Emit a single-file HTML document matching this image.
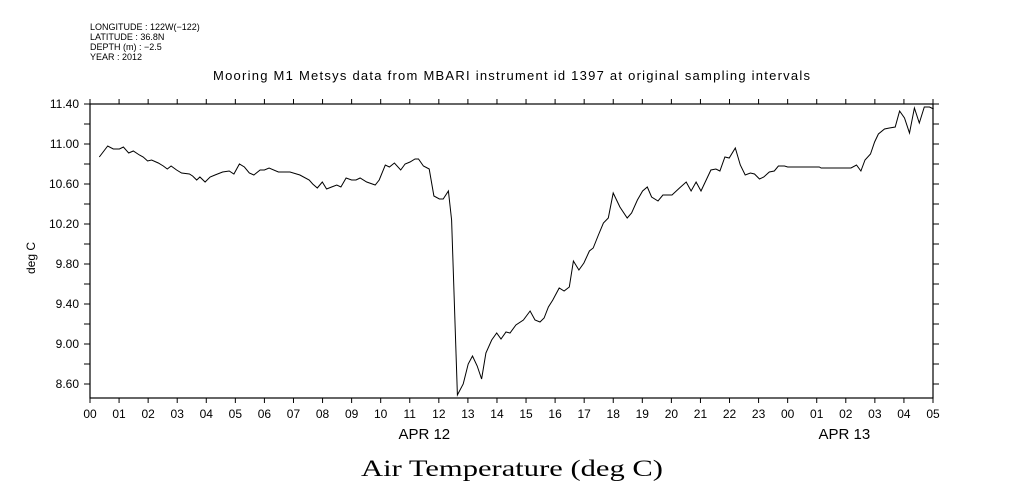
<!DOCTYPE html>
<html><head><meta charset="utf-8"><style>
html,body{margin:0;padding:0;background:#fff;}
svg{display:block;font-family:"Liberation Sans",sans-serif;}
</style></head><body>
<svg width="1009" height="504" viewBox="0 0 1009 504" xmlns="http://www.w3.org/2000/svg">
<g font-size="9" fill="#000">
<text x="90" y="30">LONGITUDE : 122W(−122)</text>
<text x="90" y="40">LATITUDE : 36.8N</text>
<text x="90" y="50">DEPTH (m) : −2.5</text>
<text x="90" y="60">YEAR : 2012</text>
</g>
<text x="213" y="80" font-size="13" textLength="597" lengthAdjust="spacing">Mooring M1 Metsys data from MBARI instrument id 1397 at original sampling intervals</text>
<text x="361" y="476" font-size="23" textLength="302" lengthAdjust="spacingAndGlyphs" font-family="Liberation Serif, serif">Air Temperature (deg C)</text>
<text transform="translate(35,258) rotate(-90)" font-size="12" text-anchor="middle">deg C</text>
<rect x="90" y="104" width="843" height="294" fill="none" stroke="#000" stroke-width="1.2"/>
<g id="axes"></g>
<polyline id="series" fill="none" stroke="#000" stroke-width="1"/>
</svg>
<script>
const hours=[0.32,0.61,0.80,1.01,1.15,1.33,1.49,1.70,1.83,1.98,2.12,2.35,2.52,2.66,2.79,2.98,3.15,3.42,3.53,3.67,3.78,3.96,4.13,4.30,4.56,4.79,4.95,5.14,5.31,5.48,5.64,5.85,6.00,6.16,6.48,6.88,7.22,7.54,7.66,7.82,7.99,8.14,8.31,8.49,8.63,8.81,9.00,9.15,9.29,9.52,9.81,9.95,10.16,10.30,10.47,10.69,10.84,11.01,11.18,11.30,11.47,11.67,11.83,12.02,12.15,12.33,12.44,12.64,12.84,13.01,13.16,13.32,13.47,13.62,13.82,13.99,14.14,14.31,14.45,14.65,14.91,15.14,15.31,15.48,15.62,15.77,15.92,16.14,16.31,16.49,16.63,16.82,16.99,17.18,17.31,17.49,17.66,17.83,18.00,18.23,18.48,18.63,18.83,19.01,19.17,19.32,19.54,19.71,20.02,20.28,20.51,20.68,20.85,21.02,21.36,21.53,21.67,21.84,21.99,22.20,22.37,22.54,22.72,22.86,23.03,23.18,23.37,23.54,23.68,23.89,24.00,25.09,25.15,26.18,26.37,26.52,26.66,26.85,26.99,27.12,27.33,27.50,27.70,27.85,28.02,28.19,28.36,28.53,28.70,28.88,29.02];
const temps=[10.87,10.98,10.95,10.95,10.97,10.91,10.93,10.89,10.87,10.83,10.84,10.81,10.78,10.75,10.78,10.74,10.71,10.70,10.68,10.64,10.67,10.62,10.67,10.69,10.72,10.73,10.70,10.80,10.77,10.71,10.69,10.74,10.74,10.76,10.72,10.72,10.69,10.64,10.60,10.56,10.62,10.55,10.57,10.59,10.57,10.66,10.64,10.64,10.66,10.62,10.59,10.64,10.79,10.77,10.81,10.74,10.80,10.82,10.85,10.85,10.78,10.75,10.48,10.45,10.45,10.53,10.24,8.49,8.60,8.80,8.88,8.78,8.65,8.91,9.04,9.11,9.05,9.12,9.11,9.19,9.24,9.33,9.24,9.22,9.26,9.37,9.44,9.56,9.53,9.57,9.83,9.74,9.81,9.93,9.96,10.09,10.21,10.26,10.51,10.37,10.26,10.31,10.44,10.53,10.57,10.47,10.43,10.49,10.49,10.56,10.62,10.53,10.62,10.53,10.74,10.75,10.73,10.87,10.86,10.96,10.79,10.69,10.71,10.70,10.65,10.67,10.72,10.73,10.78,10.78,10.77,10.77,10.76,10.76,10.79,10.73,10.84,10.90,11.02,11.10,11.15,11.16,11.17,11.33,11.26,11.11,11.36,11.21,11.37,11.37,11.35];
const xTickLabels=["00","01","02","03","04","05","06","07","08","09","10","11","12","13","14","15","16","17","18","19","20","21","22","23","00","01","02","03","04","05"];
const yTickValues=[8.6,9.0,9.4,9.8,10.2,10.6,11.0,11.4];
const yTickLabels=["8.60","9.00","9.40","9.80","10.20","10.60","11.00","11.40"];
const dateLabels=["APR 12","APR 13"];
const dateHours=[11.5,25.95];

const X0=90,X1=933,Y0=104,Y1=398;
const HMAX=29,VTOP=11.4,VBOT=8.46;
function xs(h){return X0+h*(X1-X0)/HMAX;}
function ys(v){return Y0+(VTOP-v)*(Y1-Y0)/(VTOP-VBOT);}
const NS="http://www.w3.org/2000/svg";
const ax=document.getElementById('axes');
function mk(tag,attrs,txt){const e=document.createElementNS(NS,tag);for(const k in attrs)e.setAttribute(k,attrs[k]);if(txt!==undefined)e.textContent=txt;ax.appendChild(e);return e;}
xTickLabels.forEach((l,i)=>{
  const x=xs(i);
  const t1=mk('line',{x1:x,y1:Y1,x2:x,y2:Y1+5,stroke:'#000'});
  
  
  const t2=mk('line',{x1:x,y1:Y0,x2:x,y2:Y0-5,stroke:'#000'});
  
  
  const tx=mk('text',{x:x,y:418,'font-size':12,'text-anchor':'middle'},l);
  
  
});
dateLabels.forEach((l,i)=>{
  const tx=mk('text',{x:xs(dateHours[i]),y:439,'font-size':15,'text-anchor':'middle'},l);
  
  
});
for(let v=8.6;v<=11.41;v+=0.2){
  const y=ys(v);
  const a=mk('line',{x1:X0-6,y1:y,x2:X0,y2:y,stroke:'#000'});
  
  
  const b=mk('line',{x1:X1,y1:y,x2:X1+6,y2:y,stroke:'#000'});
  
  
}
yTickValues.forEach((v,i)=>{
  const tx=mk('text',{x:79,y:ys(v)+4,'font-size':12,'text-anchor':'end'},yTickLabels[i]);
  
  
});
document.getElementById('series').setAttribute('points',hours.map((h,i)=>xs(h).toFixed(1)+','+ys(temps[i]).toFixed(1)).join(' '));
</script>
</body></html>
